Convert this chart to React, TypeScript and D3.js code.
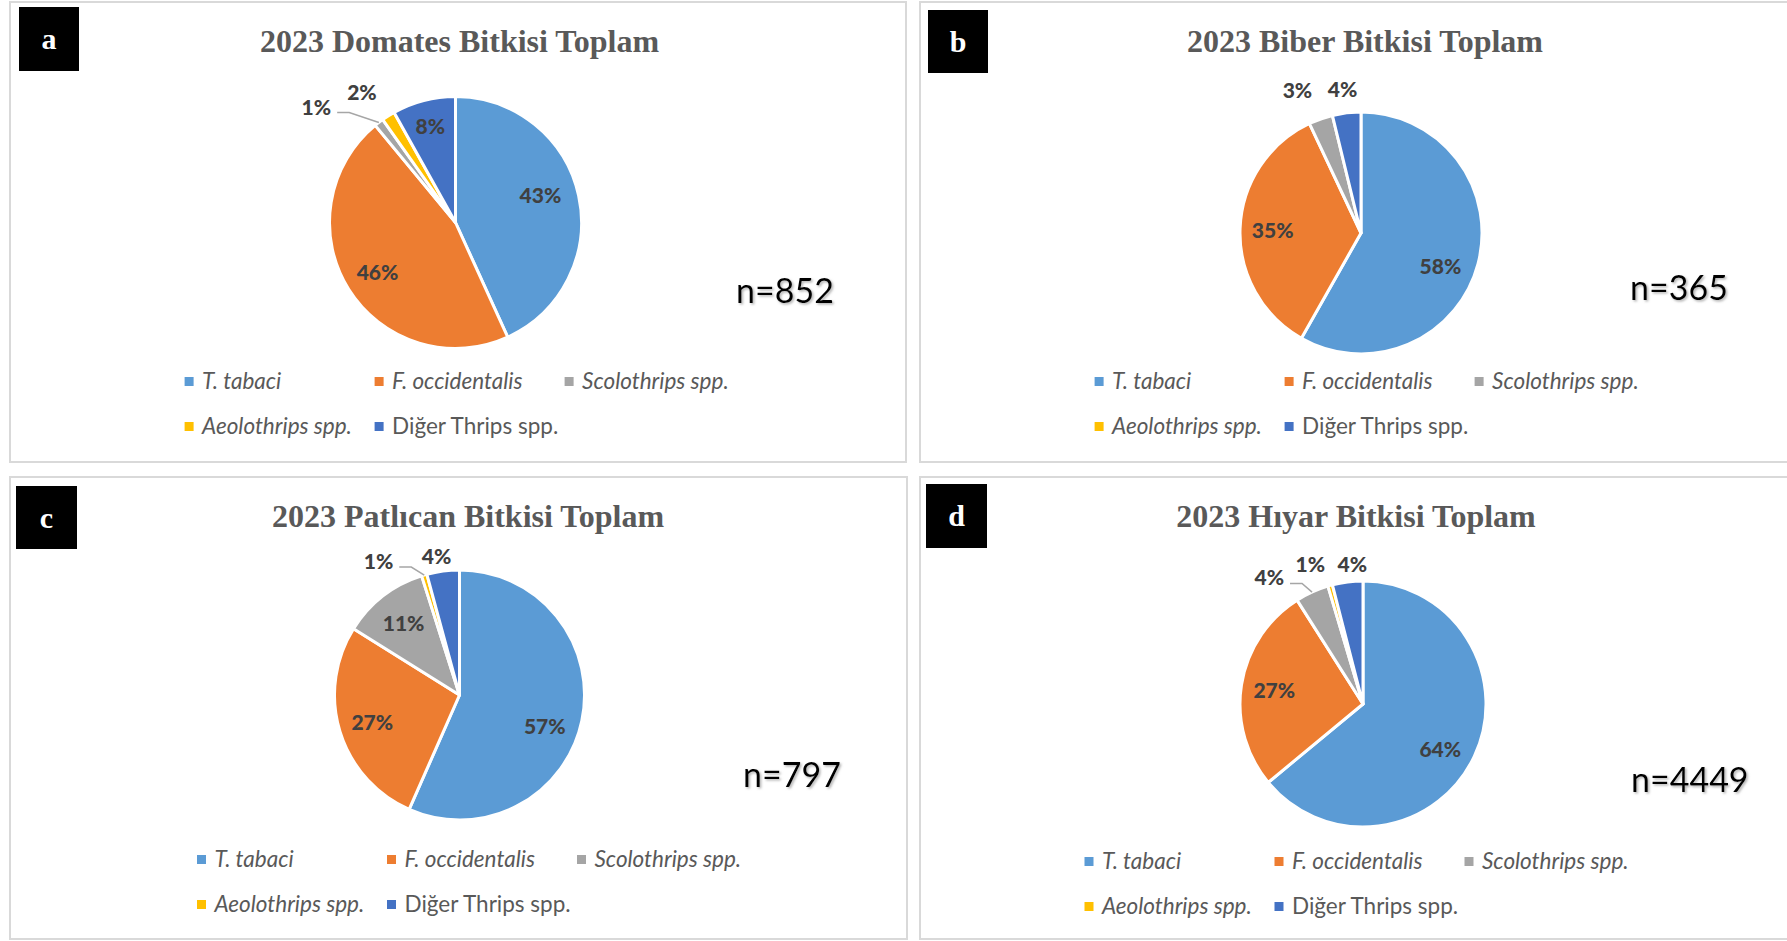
import { useEffect, useRef } from 'react';
import * as d3 from 'd3';

const WIDTH = 1787;
const HEIGHT = 941;

// legend / slice order (clockwise from 12 o'clock)
const species = ['T. tabaci', 'F. occidentalis', 'Scolothrips spp.', 'Aeolothrips spp.', 'Diğer Thrips spp.'];
const italicNames = [true, true, true, true, false];
const sliceColors = ['#5b9bd5', '#ed7d31', '#a5a5a5', '#ffc000', '#4472c4'];

const panelLetters = ['a', 'b', 'c', 'd'];
const panelTitles = [
  '2023 Domates Bitkisi Toplam',
  '2023 Biber Bitkisi Toplam',
  '2023 Patlıcan Bitkisi Toplam',
  '2023 Hıyar Bitkisi Toplam',
];
const sampleSizes = [852, 365, 797, 4449];

// shares in % (labels show rounded values)
const domatesShares = [43.2, 45.8, 1.2, 1.7, 8.1];
const biberShares = [58.2, 34.8, 3.2, 0, 3.8];
const patlicanShares = [56.6, 27.3, 11.2, 0.7, 4.2];
const hiyarShares = [64.0, 27.0, 4.4, 0.6, 4.0];
const panelShares = [domatesShares, biberShares, patlicanShares, hiyarShares];

// layout of the four framed panels
const panelLayout = [
  { box: [10, 2, 896, 460], tag: [19, 7, 60, 64], cx: 455.5, cy: 222.5, r: 126, titleX: 459.5, titleY: 52, nX: 736, nY: 303, legX: 184.6, legY: 380 },
  { box: [920, 2, 900, 460], tag: [928, 10, 60, 63], cx: 1361, cy: 233, r: 121, titleX: 1365, titleY: 52, nX: 1630, nY: 300, legX: 1094.6, legY: 380 },
  { box: [10, 477, 897, 462], tag: [16, 486, 61, 63], cx: 459.5, cy: 695, r: 125, titleX: 468, titleY: 527, nX: 743, nY: 787, legX: 197, legY: 858 },
  { box: [920, 477, 900, 462], tag: [926, 484, 61, 64], cx: 1363, cy: 704, r: 123, titleX: 1356, titleY: 527, nX: 1631, nY: 792, legX: 1084.5, legY: 860 },
];

// small nudges that mimic Excel's "best fit" label placement, keyed panel-slice
const labelNudges: Record<string, [number, number]> = {
  '0-0': [-5, -8], '0-2': [-46.7, 4.2], '0-3': [-12.5, -2.4], '0-4': [-2, -7.5],
  '1-0': [-6, 10], '1-2': [-14.6, -4.8], '1-4': [-1, 1],
  '2-0': [-4, 12], '2-3': [-38.4, 10.4], '2-4': [-3, 9.7],
  '3-0': [-4, 6], '3-2': [-32, 8.6], '3-3': [-13, 2.6], '3-4': [8, 7],
};
const leaderLabels = ['0-2', '2-3', '3-2'];

export default function App() {
  const svgRef = useRef<SVGSVGElement>(null);

  useEffect(() => {
    if (!svgRef.current) return;
    const svg = d3.select(svgRef.current);
    svg.selectAll('*').remove();

    const defs = svg.append('defs');
    const shadow = defs
      .append('filter')
      .attr('id', 'nShadow')
      .attr('x', '-20%')
      .attr('y', '-30%')
      .attr('width', '140%')
      .attr('height', '160%');
    shadow
      .append('feDropShadow')
      .attr('dx', 1.5)
      .attr('dy', 1.5)
      .attr('stdDeviation', 1)
      .attr('flood-color', '#7f7f7f')
      .attr('flood-opacity', 0.6);

    const pie = d3.pie<number>().sort(null).value((d) => d);

    panelLayout.forEach((lay, p) => {
      const g = svg.append('g');

      // frame
      g.append('rect')
        .attr('x', lay.box[0])
        .attr('y', lay.box[1])
        .attr('width', lay.box[2])
        .attr('height', lay.box[3])
        .attr('fill', '#ffffff')
        .attr('stroke', '#d9d9d9')
        .attr('stroke-width', 2);

      // panel letter
      g.append('rect')
        .attr('x', lay.tag[0])
        .attr('y', lay.tag[1])
        .attr('width', lay.tag[2])
        .attr('height', lay.tag[3])
        .attr('fill', '#000000');
      g.append('text')
        .attr('x', lay.tag[0] + lay.tag[2] / 2)
        .attr('y', lay.tag[1] + lay.tag[3] / 2 + 10)
        .attr('text-anchor', 'middle')
        .attr('font-family', '"Liberation Serif", serif')
        .attr('font-weight', 'bold')
        .attr('font-size', 30)
        .attr('fill', '#ffffff')
        .text(panelLetters[p]);

      // title
      g.append('text')
        .attr('x', lay.titleX)
        .attr('y', lay.titleY)
        .attr('text-anchor', 'middle')
        .attr('font-family', '"Liberation Serif", serif')
        .attr('font-weight', 'bold')
        .attr('font-size', 32)
        .attr('fill', '#595959')
        .text(panelTitles[p]);

      // pie
      const arcs = pie(panelShares[p]).filter((a) => a.value > 0);
      const arc = d3.arc<d3.PieArcDatum<number>>().innerRadius(0).outerRadius(lay.r);
      const pg = g.append('g').attr('transform', `translate(${lay.cx},${lay.cy})`);
      pg.selectAll('path')
        .data(arcs)
        .enter()
        .append('path')
        .attr('d', arc)
        .attr('fill', (d) => sliceColors[d.index])
        .attr('stroke', '#ffffff')
        .attr('stroke-width', 3)
        .attr('stroke-linejoin', 'round');

      // data labels
      arcs.forEach((d) => {
        const key = `${p}-${d.index}`;
        const mid = (d.startAngle + d.endAngle) / 2;
        const inside = d.value >= 5;
        const rho = inside ? lay.r * 0.73 : lay.r + 26;
        const nudge = labelNudges[key] || [0, 0];
        const x = lay.cx + rho * Math.sin(mid) + nudge[0];
        const y = lay.cy - rho * Math.cos(mid) + nudge[1];
        const t = g
          .append('text')
          .attr('x', x)
          .attr('y', y)
          .attr('text-anchor', 'middle')
          .attr('dominant-baseline', 'central')
          .attr('font-family', 'Lato, sans-serif')
          .attr('font-weight', 900)
          .attr('font-size', 21)
          .attr('fill', '#404040')
          .text(`${Math.round(d.value)}%`);

        if (leaderLabels.includes(key)) {
          const bb = (t.node() as SVGTextElement).getBBox();
          const sx = bb.x + bb.width + 6;
          const sy = y + 6.5;
          const ex = lay.cx + lay.r * Math.sin(mid);
          const ey = lay.cy - lay.r * Math.cos(mid);
          g.append('polyline')
            .attr('points', `${sx},${sy} ${sx + 12},${sy} ${ex},${ey}`)
            .attr('fill', 'none')
            .attr('stroke', '#a6a6a6')
            .attr('stroke-width', 1.5);
        }
      });

      // sample size
      g.append('text')
        .attr('x', lay.nX)
        .attr('y', lay.nY)
        .attr('font-family', 'Lato, sans-serif')
        .attr('font-size', 34)
        .attr('fill', '#000000')
        .attr('filter', 'url(#nShadow)')
        .text(`n=${sampleSizes[p]}`);

      // legend
      species.forEach((name, i) => {
        const col = i < 3 ? i : i - 3;
        const row = i < 3 ? 0 : 1;
        const lx = lay.legX + col * 190;
        const ly = lay.legY + row * 45;
        g.append('rect')
          .attr('x', lx)
          .attr('y', ly - 3)
          .attr('width', 9)
          .attr('height', 9)
          .attr('fill', sliceColors[i]);
        g.append('text')
          .attr('x', lx + 17.5)
          .attr('y', ly)
          .attr('dominant-baseline', 'central')
          .attr('font-family', 'Lato, sans-serif')
          .attr('font-style', italicNames[i] ? 'italic' : 'normal')
          .attr('font-size', 22.5)
          .attr('fill', '#595959')
          .text(name);
      });
    });
  }, []);

  return (
    <svg
      ref={svgRef}
      width={WIDTH}
      height={HEIGHT}
      style={{ position: 'absolute', left: 0, top: 0, background: '#ffffff' }}
    />
  );
}
